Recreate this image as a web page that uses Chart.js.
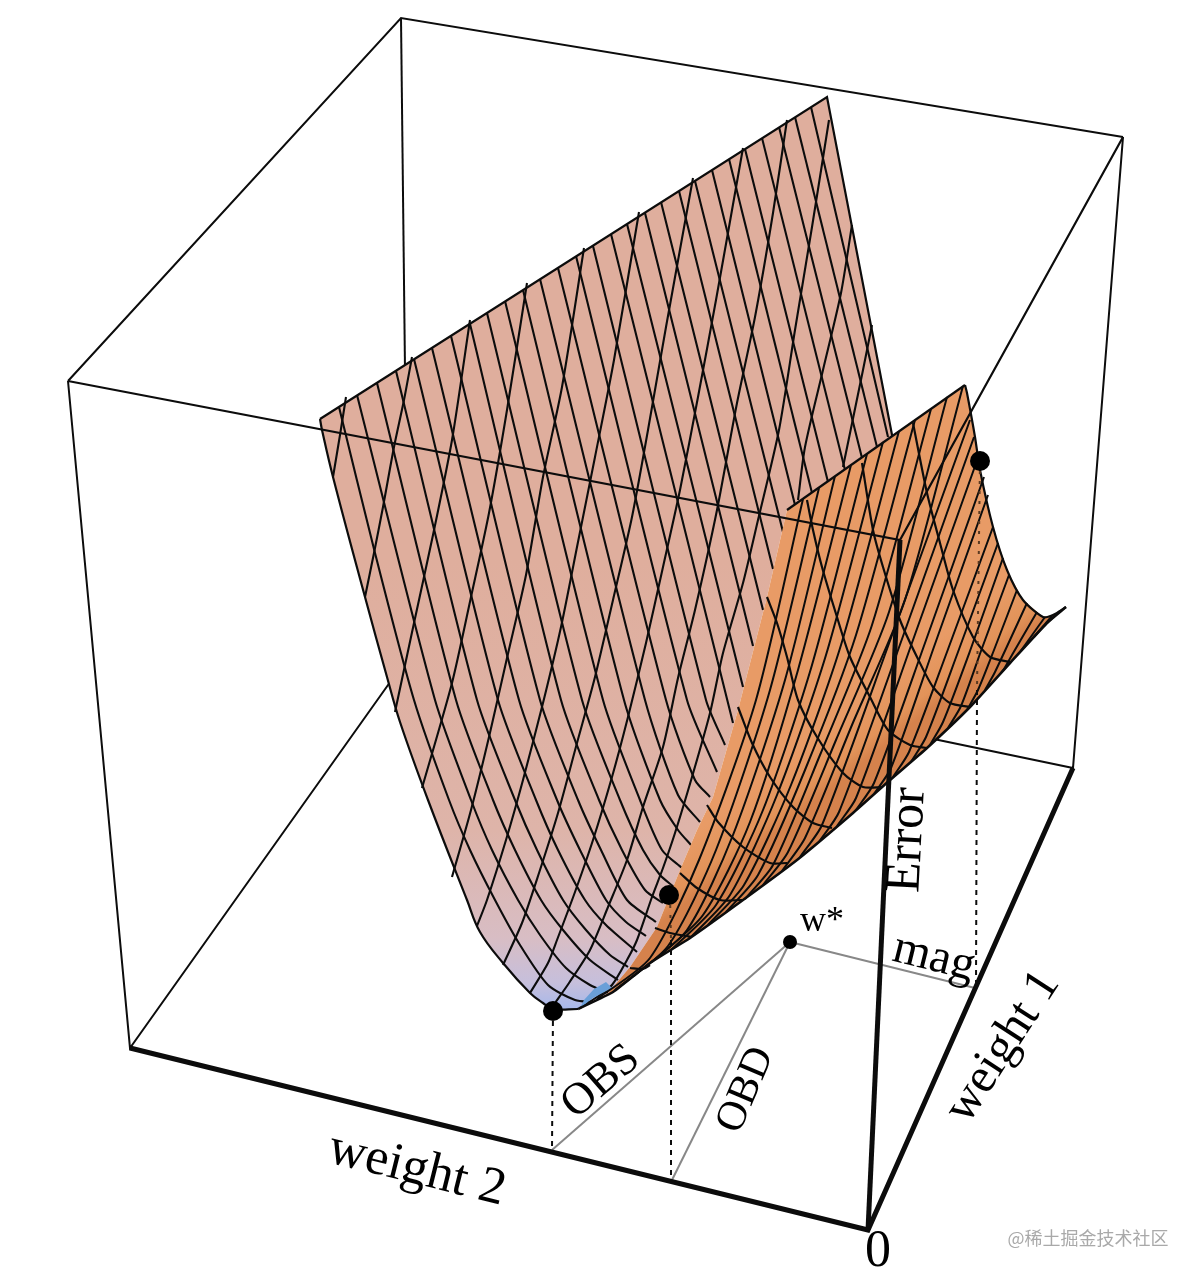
<!DOCTYPE html>
<html>
<head>
<meta charset="utf-8">
<title>Error surface</title>
<style>
  html, body { margin: 0; padding: 0; background: #fff; }
  canvas { display: block; }
</style>
<script src="https://cdn.jsdelivr.net/npm/chart.js@4/dist/chart.umd.min.js"></script>
</head>
<body>
<canvas id="surface" width="1201" height="1280"></canvas>
<script>
// ── DATA (in picture coordinates) ────────────────────────────────────────────
const boxBack = [
  [[68, 381], [401, 18], [1123, 137]],
  [[401, 18], [405, 370]],
  [[68, 381], [130, 1048], [420, 640]],
  [[1123, 137], [1073, 768], [900, 732]],
];
const boxFront = [
  [[68, 381], [900, 540], [1123, 137]],
];
const axisLines = [
  [[130, 1048], [868, 1230], [1073, 768]],
  [[900, 540], [868, 1230]],
];

const leftEdge = [[320, 419], [322, 430], [333, 477], [365, 597], [387, 677], [400, 722], [428, 800], [467, 900], [480, 932], [503, 963], [530, 993], [543, 1003], [553, 1009], [578, 1009]];
const foldEdge = [[578, 1009], [608, 993], [630, 967], [657, 927], [680, 870], [697, 830], [713, 797], [738, 710], [767, 597], [787, 510]];
const rimFar = [[320, 419], [827, 97], [893, 440]];
const rimNear = [[787, 510], [965, 385]];
const rightEdge = [[965, 385], [967, 393], [975, 437], [980, 470], [993, 527], [1007, 570], [1023, 600], [1043, 617], [1053, 615], [1066, 607]];
const lowerEdge = [[1066, 607], [1047, 623], [1010, 663], [970, 707], [927, 748], [890, 780], [853, 813], [797, 860], [743, 900], [690, 938], [650, 963], [613, 992], [578, 1009]];
const blueCells = [[580, 1008], [593, 998], [612, 988], [606, 982], [594, 989], [584, 1000]];

// lines running down the far wall, top rim to the fold
const wallDown = [
  [[339, 407], [375, 553], [414, 700], [449, 800], [470, 850], [495, 900], [520, 945], [548, 985], [575, 1000], [593, 1002]],
  [[357, 395], [435, 700], [471, 800], [492, 850], [518, 900], [540, 935], [566, 968], [590, 985], [608, 993]],
  [[377, 383], [456, 700], [493, 800], [515, 850], [541, 900], [563, 930], [590, 960], [618, 980]],
  [[396, 371], [477, 700], [515, 800], [537, 850], [563, 900], [586, 930], [610, 955], [628, 967]],
  [[414, 359], [498, 700], [536, 800], [558, 850], [585, 900], [606, 925], [637, 952]],
  [[432, 348], [519, 700], [557, 800], [580, 850], [606, 900], [626, 922], [646, 936]],
  [[451, 336], [540, 700], [578, 800], [601, 850], [627, 900], [656, 922]],
  [[470, 324], [561, 700], [599, 800], [622, 850], [645, 890], [663, 903]],
  [[487, 313], [582, 700], [620, 800], [643, 850], [660, 875], [674, 887]],
  [[505, 301], [603, 700], [640, 800], [662, 850], [682, 868]],
  [[523, 290], [624, 700], [660, 800], [678, 830], [691, 845]],
  [[540, 279], [645, 700], [678, 795], [700, 822]],
  [[558, 268], [666, 700], [695, 780], [710, 797]],
  [[576, 256], [687, 700], [717, 772]],
  [[593, 246], [706, 700], [725, 745]],
  [[611, 234], [733, 723]],
  [[627, 224], [743, 687]],
  [[645, 213], [753, 646]],
  [[661, 202], [763, 610]],
  [[679, 191], [773, 569]],
  [[695, 181], [783, 532]],
  [[712, 170], [795, 505]],
  [[729, 159], [812, 493]],
  [[745, 149], [828, 482]],
  [[762, 138], [845, 470]],
  [[779, 127], [862, 458]],
  [[795, 117], [877, 447]],
  [[811, 107], [888, 437]],
];

// lines crossing them, top rim down to the left edge
const wallAcross = [
  [[346, 397], [340, 435], [333, 477]],
  [[412, 357], [404, 400], [394, 447], [383, 507], [374, 553], [365, 597]],
  [[470, 320], [452, 440], [433, 535], [414, 623], [395, 712]],
  [[527, 283], [507, 410], [489, 513], [471, 597], [452, 683], [422, 788]],
  [[584, 248], [562, 387], [543, 477], [526, 575], [507, 658], [489, 737], [471, 810], [452, 877]],
  [[639, 212], [614, 360], [595, 457], [578, 542], [561, 627], [543, 703], [523, 780], [506, 840], [487, 900], [477, 926]],
  [[693, 178], [666, 327], [648, 430], [632, 517], [613, 600], [595, 677], [577, 743], [558, 813], [539, 873], [522, 923], [503, 965]],
  [[743, 148], [716, 300], [698, 397], [680, 490], [663, 567], [646, 643], [628, 717], [612, 777], [593, 840], [575, 892], [557, 940], [548, 963], [530, 993]],
  [[787, 120], [773, 213], [755, 317], [737, 403], [717, 510], [695, 610], [678, 678], [663, 747], [643, 807], [627, 860], [608, 907], [590, 950], [569, 983], [555, 1003]],
  [[829, 120], [812, 227], [795, 330], [779, 430], [758, 520], [743, 583], [723, 653], [710, 713], [692, 777], [675, 833], [663, 868], [652, 897], [637, 940], [627, 960], [612, 985], [597, 997], [580, 1008]],
  [[852, 225], [841, 293], [823, 370], [805, 447], [798, 500]],
  [[872, 325], [863, 370], [843, 467]],
];

// near wall: dense lines from the lower edge up to the rim
const nearUp = [
  [[597, 999], [650, 958], [699, 860], [756, 700], [803, 499]],
  [[615, 990], [668, 946], [716, 850], [770, 690], [819, 488]],
  [[634, 976], [687, 930], [733, 835], [785, 680], [835, 476]],
  [[652, 962], [703, 915], [750, 822], [798, 670], [851, 465]],
  [[671, 950], [716, 905], [763, 810], [812, 665], [867, 454]],
  [[689, 939], [730, 895], [777, 795], [826, 655], [883, 442]],
  [[708, 925], [744, 885], [791, 785], [841, 645], [899, 431]],
  [[726, 912], [758, 875], [805, 770], [856, 635], [915, 420]],
  [[745, 899], [773, 865], [820, 755], [872, 625], [931, 409]],
  [[763, 885], [788, 852], [836, 740], [889, 612], [947, 397]],
  [[782, 871], [805, 838], [852, 725], [905, 600], [963, 386]],
  [[800, 857], [822, 825], [891, 638], [970, 420]],
  [[819, 842], [839, 812], [902, 639], [974, 437]],
  [[837, 826], [856, 798], [913, 640], [979, 455]],
  [[856, 810], [874, 783], [925, 643], [984, 477]],
  [[874, 794], [891, 768], [935, 644], [988, 495]],
  [[893, 777], [909, 752], [947, 652], [993, 527]],
  [[911, 762], [926, 737], [958, 652], [998, 543]],
  [[930, 745], [943, 722], [970, 651], [1003, 558]],
  [[948, 728], [961, 706], [981, 651], [1009, 575]],
  [[967, 710], [978, 690], [994, 650], [1017, 590]],
  [[985, 690], [995, 672], [1027, 603]],
  [[1003, 671], [1012, 655], [1037, 612]],
  [[1020, 652], [1045, 617]],
  [[1034, 637], [1052, 616]],
  [[1047, 623], [1060, 611]],
];

// near wall: the sparse arcs
const nearArcs = [
  [[913, 423], [927, 493], [940, 543], [953, 590], [973, 637], [990, 657], [1010, 662]],
  [[862, 463], [873, 530], [883, 567], [900, 620], [917, 657], [933, 687], [950, 703], [970, 707]],
  [[807, 500], [813, 530], [822, 567], [837, 617], [850, 657], [870, 697], [888, 730], [910, 745], [927, 748]],
  [[767, 597], [777, 623], [787, 657], [798, 700], [817, 737], [843, 773], [863, 787], [883, 787]],
  [[738, 707], [752, 743], [770, 777], [793, 807], [813, 823], [832, 828]],
  [[707, 805], [718, 822], [743, 847], [770, 863], [787, 863]],
  [[680, 873], [697, 888], [720, 900], [742, 900]],
  [[655, 928], [670, 933], [692, 937]],
  [[630, 968], [643, 969], [650, 965]],
];

const dropOnSurface = [
  [[980, 461], [977, 690]],
  [[670, 895], [671, 940]],
];
const dropLines = [
  [[553, 1011], [552, 1150]],
  [[671, 940], [671, 1182]],
  [[977, 690], [976, 988]],
];
const magnitudeLines = [
  [[790, 942], [552, 1150]],
  [[790, 942], [671, 1182]],
  [[790, 942], [975, 988]],
];
const bigDots = [[553, 1011], [669, 895], [980, 461]];
const optimumDot = [[790, 942]];

const labelTexts  = ['weight 2', 'weight 1', 'Error', 'OBS', 'OBD', 'mag', 'w*', '0', '@稀土掘金技术社区'];
const labelX      = [417, 1003, 908, 601, 746, 934, 822, 878, 1088];
const labelY      = [1170, 1047, 840, 1082, 1090, 958, 922, 1252, 1238];
const labelAngle  = [14, -57, -87, -41, -67, 14, 0, 0, 0];
const labelSize   = [52, 49, 50, 45, 42, 48, 36, 52, 18];

// ── HELPERS ──────────────────────────────────────────────────────────────────
const toPts = list => list.map(([x, y]) => ({ x, y }));
const datasets = [];

function addLine(list, style = {}) {
  datasets.push({
    data: toPts(list),
    showLine: true,
    fill: false,
    pointRadius: 0,
    borderColor: '#0c0c0c',
    borderWidth: 2.1,
    tension: 0,
    clip: false,
    ...style,
  });
}

// the axes span the whole canvas 1:1, so picture coordinates are canvas pixels
function gradient(from, to, stops) {
  const ctx = document.getElementById('surface').getContext('2d');
  const g = ctx.createLinearGradient(from[0], from[1], to[0], to[1]);
  stops.forEach(([at, c]) => g.addColorStop(at, c));
  return g;
}

const farFill = gradient([0, 560], [0, 1010], [
  [0, '#dfae9d'], [0.6, '#deb4a9'], [0.84, '#d8bdc4'], [0.94, '#c6bfdc'], [1, '#a6b8ea'],
]);
const nearFill = gradient([687, 839], [718, 878], [
  [0, '#e89b66'], [0.7, '#e29359'], [1, '#d5824c'],
]);

// ── PAINT ORDER: back of box, far wall, near wall, front of box, marks ───────
boxBack.forEach(l => addLine(l, { borderWidth: 2 }));

addLine([...leftEdge, ...foldEdge.slice(1), rimNear[0], [893, 440], [827, 97], leftEdge[0]], {
  borderWidth: 0, borderColor: 'transparent', fill: 'shape', backgroundColor: farFill,
});
wallDown.forEach(l => addLine(l, { tension: 0.25 }));
wallAcross.forEach(l => addLine(l, { tension: 0.25 }));
addLine(leftEdge, { borderWidth: 2.2, tension: 0.4 });
addLine(rimFar, { borderWidth: 2.2 });

addLine([...rimNear, ...rightEdge.slice(1), ...lowerEdge.slice(1), ...foldEdge.slice(1)], {
  borderWidth: 0, borderColor: 'transparent', fill: 'shape', backgroundColor: nearFill,
});
addLine(blueCells, { borderWidth: 0, borderColor: 'transparent', fill: 'shape', backgroundColor: '#6a9fd8' });
nearUp.forEach(l => addLine(l, { tension: 0.25, borderWidth: 2 }));
nearArcs.forEach(l => addLine(l, { tension: 0.25, borderWidth: 2.2 }));
addLine(rimNear, { borderWidth: 2.2 });
addLine(rightEdge, { borderWidth: 2.2, tension: 0.25 });
addLine(lowerEdge, { borderWidth: 2.6, tension: 0.15 });

dropOnSurface.forEach(l => addLine(l, { borderWidth: 2, borderDash: [3, 7], borderColor: '#5a3a22' }));
boxFront.forEach(l => addLine(l, { borderWidth: 2.2 }));
magnitudeLines.forEach(l => addLine(l, { borderWidth: 2, borderColor: '#888888' }));
dropLines.forEach(l => addLine(l, { borderWidth: 2, borderDash: [5, 5] }));
axisLines.forEach(l => addLine(l, { borderWidth: 5 }));

datasets.push({ data: toPts(bigDots), showLine: false, pointRadius: 10, pointBackgroundColor: '#000', pointBorderWidth: 0, clip: false });
datasets.push({ data: toPts(optimumDot), showLine: false, pointRadius: 7, pointBackgroundColor: '#000', pointBorderWidth: 0, clip: false });

// ── LABELS ───────────────────────────────────────────────────────────────────
const labelsPlugin = {
  id: 'labels',
  afterDraw(chart) {
    const { ctx, scales } = chart;
    labelTexts.forEach((txt, i) => {
      const mark = i === labelTexts.length - 1;
      ctx.save();
      ctx.translate(scales.x.getPixelForValue(labelX[i]), scales.y.getPixelForValue(labelY[i]));
      ctx.rotate(labelAngle[i] * Math.PI / 180);
      ctx.font = `${labelSize[i]}px ${mark ? '"Noto Sans CJK SC"' : '"Liberation Serif"'}`;
      ctx.fillStyle = mark ? '#a9a9a9' : '#000';
      ctx.textAlign = 'center';
      ctx.textBaseline = 'middle';
      ctx.fillText(txt, 0, 0);
      ctx.restore();
    });
  },
};

// first dataset ends up on top in Chart.js, so hand them over reversed
new Chart(document.getElementById('surface'), {
  type: 'scatter',
  data: { datasets: datasets.reverse() },
  options: {
    responsive: false,
    animation: false,
    layout: { padding: 0, autoPadding: false },
    plugins: { legend: { display: false }, tooltip: { enabled: false } },
    scales: {
      x: { type: 'linear', min: 0, max: 1201, display: false },
      y: { type: 'linear', min: 0, max: 1280, reverse: true, display: false },
    },
  },
  plugins: [labelsPlugin],
});
</script>
</body>
</html>
